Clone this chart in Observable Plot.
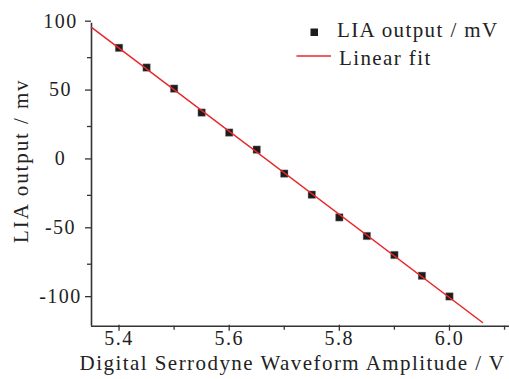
<!DOCTYPE html>
<html>
<head>
<meta charset="utf-8">
<script src="https://cdn.jsdelivr.net/npm/d3@7"></script>
<script src="https://cdn.jsdelivr.net/npm/@observablehq/plot@0.6"></script>
<style>
  html, body { margin: 0; padding: 0; background: #fff; }
  #wrap { position: relative; width: 509px; height: 379px; }
  #legend { position: absolute; left: 0; top: 0; }
  svg text { font-family: "Liberation Serif", "Times New Roman", serif; }
</style>
</head>
<body>
<div id="wrap"></div>
<script>
// Data
const amplitude = [5.40, 5.45, 5.50, 5.55, 5.60, 5.65, 5.70, 5.75, 5.80, 5.85, 5.90, 5.95, 6.00];
const liaOutput = [82.1, 67.8, 52.5, 35.1, 20.6, 8.2, -9.2, -24.5, -41.0, -54.5, -68.3, -83.4, -98.4];
// Linear fit line end points (as drawn in the reference)
const fitX = [5.35, 6.06];
const fitY = [97.0, -117.3];
// Ticks
const xTicks = [5.4, 5.6, 5.8, 6.0];
const xMinor = [5.5, 5.7, 5.9, 6.1];
const yTicks = [-100, -50, 0, 50, 100];
const yMinor = [-75, -25, 25, 75];
const xDomain = [5.35, 6.109];
const yDomain = [-120, 100];
const xTitle = "Digital Serrodyne Waveform Amplitude / V";
const yTitle = "LIA output / mv";
const legendLabels = ["LIA output / mV", "Linear fit"];

const points = amplitude.map((x, i) => ({x, y: liaOutput[i]}));
const fit = fitX.map((x, i) => ({x, y: fitY[i]}));

const axisColor = "#333";
const textColor = "#222";
const font = "Liberation Serif";

const chart = Plot.plot({
  width: 509,
  height: 379,
  marginLeft: 91,
  marginRight: 0,
  marginTop: 22.7,
  marginBottom: 53.3,
  style: {fontFamily: font, fontSize: "20px", color: textColor, background: "#fff", overflow: "visible"},
  x: {domain: xDomain},
  y: {domain: yDomain},
  marks: [
    Plot.axisY({ticks: yTicks, tickSize: 6, tickPadding: 25, textAnchor: "middle", dy: -2,
      label: null, stroke: axisColor, strokeWidth: 1.3, fontSize: 20, tickFormat: d => d.toString(),
      className: "tk"}),
    Plot.axisY({ticks: yMinor, tickSize: 4, text: null, label: null, stroke: axisColor, strokeWidth: 1.3}),
    Plot.axisX({ticks: xTicks, tickSize: 6, tickPadding: 0, dy: -1, label: null, stroke: axisColor, strokeWidth: 1.3,
      fontSize: 20, tickFormat: d3.format(".1f"), className: "tk"}),
    Plot.axisX({ticks: xMinor, tickSize: 4, text: null, label: null, stroke: axisColor, strokeWidth: 1.3}),
    Plot.ruleX([xDomain[0]], {stroke: axisColor, strokeWidth: 1.6}),
    Plot.ruleY([yDomain[0]], {stroke: axisColor, strokeWidth: 1.6}),
    Plot.dot(points, {x: "x", y: "y", symbol: "square", r: 4.2, fill: "#1c1c1c", stroke: "#888", strokeWidth: 0.4}),
    Plot.line(fit, {x: "x", y: "y", stroke: "#e8262b", strokeWidth: 1.5}),
    Plot.text([xTitle], {frameAnchor: "bottom", dx: -8, dy: 44, fontSize: 21, fill: textColor, textAnchor: "middle", className: "xt"}),
    Plot.text([yTitle], {frameAnchor: "left", dx: -70, dy: -14, rotate: -90, fontSize: 21, fill: textColor, textAnchor: "middle", className: "yt"})
  ]
});

document.getElementById("wrap").appendChild(chart);
// slight horizontal spacing of glyphs as in the reference
chart.querySelectorAll(".tk text").forEach(t => t.setAttribute("letter-spacing", "1.5"));
chart.querySelectorAll(".xt text").forEach(t => t.setAttribute("letter-spacing", "1.45"));
chart.querySelectorAll(".yt text").forEach(t => t.setAttribute("letter-spacing", "1.9"));

// Legend overlay
const leg = d3.create("svg").attr("id", "legend").attr("width", 509).attr("height", 80)
  .style("font-family", font).style("font-size", "21px");
leg.append("rect").attr("x", 310.5).attr("y", 28.5).attr("width", 7.5).attr("height", 7.5).attr("fill", "#1c1c1c");
leg.append("text").attr("x", 337).attr("y", 37).attr("fill", textColor).attr("letter-spacing", "1.4").text(legendLabels[0]);
leg.append("line").attr("x1", 296.5).attr("x2", 331).attr("y1", 56).attr("y2", 56).attr("stroke", "#e8262b").attr("stroke-width", 1.5);
leg.append("text").attr("x", 339).attr("y", 65).attr("fill", textColor).attr("letter-spacing", "1.4").text(legendLabels[1]);
document.getElementById("wrap").appendChild(leg.node());
</script>
</body>
</html>
